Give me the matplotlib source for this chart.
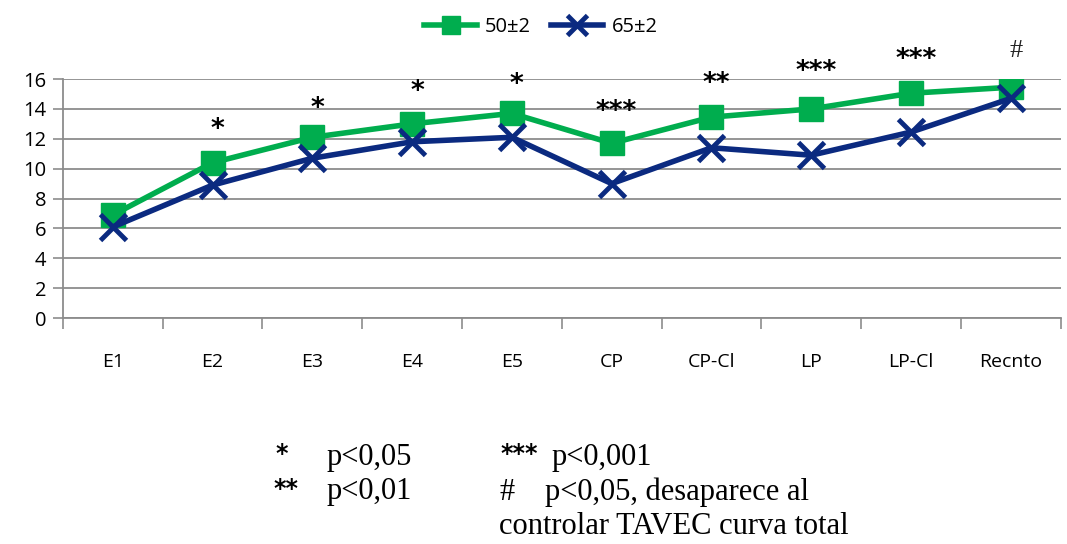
import numpy as np
import matplotlib.pyplot as plt
from matplotlib.ticker import FixedLocator

categories = ['E1', 'E2', 'E3', 'E4', 'E5', 'CP', 'CP-Cl', 'LP', 'LP-Cl', 'Recnto']
group_50 = [6.9, 10.4, 12.1, 13.0, 13.7, 11.7, 13.45, 14.0, 15.05, 15.45]
group_65 = [6.1, 8.9, 10.7, 11.8, 12.1, 9.0, 11.4, 10.9, 12.45, 14.7]
signif = ['', '*', '*', '*', '*', '***', '**', '***', '***', '#']
signif_y = [0, 12.6, 14.0, 15.1, 15.6, 13.8, 15.7, 16.5, 17.3, 17.9]

green = '#00AD4E'
navy = '#0B2A80'
grid_c = '#8C8C8C'

plt.rcParams['font.family'] = ['Open Sans', 'DejaVu Sans']

fig = plt.figure(figsize=(10.67, 5.44), dpi=100)
ax = fig.add_axes([0.059, 0.4154, 0.935, 0.4393])

x = np.arange(len(categories))
ax.plot(x, group_50, color=green, lw=4, marker='s', ms=17, label='50±2', zorder=3)
ax.plot(x, group_65, color=navy, lw=4, marker='x', ms=19, mew=3.5, label='65±2', zorder=4)

for xi, s, yy in zip(x, signif, signif_y):
    if s == '#':
        ax.text(xi + 0.05, yy, s, ha='center', va='center', fontsize=19,
                family='Liberation Serif', color='#222222', clip_on=False)
    elif s:
        ax.text(xi + 0.05, yy, s, ha='center', va='center', fontsize=19,
                family='DejaVu Sans', fontweight='bold', color='black', clip_on=False)

ax.set_xlim(-0.5, len(categories) - 0.5)
ax.set_ylim(0, 16)
ax.set_yticks(range(0, 17, 2))
ax.set_xticks(x)
ax.set_xticklabels(categories)
ax.xaxis.set_minor_locator(FixedLocator(np.arange(-0.5, len(categories), 1.0)))
ax.tick_params(axis='x', which='major', length=0, pad=25, labelsize=14)
ax.tick_params(axis='x', which='minor', length=8, width=1.2, color=grid_c)
ax.tick_params(axis='y', length=7, width=1.2, color=grid_c, labelsize=14.5, pad=5)
ax.grid(axis='y', color=grid_c, lw=1.3)
ax.set_axisbelow(True)
for side in ('top', 'right'):
    ax.spines[side].set_visible(False)
for side in ('left', 'bottom'):
    ax.spines[side].set_color(grid_c)
    ax.spines[side].set_linewidth(1.3)

fig.legend(loc='center', bbox_to_anchor=(0.507, 0.95), ncol=2, frameon=False,
           fontsize=14.5, handlelength=2.6, columnspacing=1.0, handletextpad=0.4,
           markerscale=0.75)

# significance key below the chart
serif = dict(family='Liberation Serif', fontsize=22, color='black', va='center')
stars = dict(family='DejaVu Sans', fontweight='bold', fontsize=17, color='black', va='center')
fig.text(275 / 1067, 1 - 454 / 544, '*', **stars)
fig.text(327 / 1067, 1 - 457 / 544, 'p<0,05', **serif)
fig.text(273 / 1067, 1 - 489 / 544, '**', **stars)
fig.text(327 / 1067, 1 - 492 / 544, 'p<0,01', **serif)
fig.text(500 / 1067, 1 - 454 / 544, '***', **stars)
fig.text(552 / 1067, 1 - 457 / 544, 'p<0,001', **serif)
fig.text(500 / 1067, 1 - 492 / 544, '#', **serif)
fig.text(545 / 1067, 1 - 492 / 544, 'p<0,05, desaparece al', **serif)
fig.text(499 / 1067, 1 - 527 / 544, 'controlar TAVEC curva total', **serif)

fig.savefig('out.png', dpi=100)
